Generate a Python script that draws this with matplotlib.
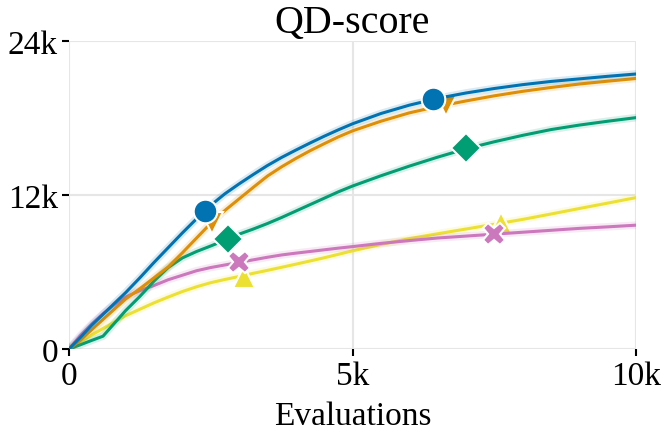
import matplotlib
matplotlib.use('Agg')
from matplotlib import pyplot as plt
from matplotlib.ticker import FuncFormatter

# values
evals = [0, 200, 400, 600, 800, 1000, 1250, 1500, 1750, 2000, 2250, 2500, 2750, 3000,
         3250, 3500, 3750, 4000, 4250, 4500, 4750, 5000, 5500, 6000, 6500, 7000,
         7500, 8000, 8500, 9000, 9500, 10000]

blue = [0, 900, 1850, 2700, 3550, 4400, 5550, 6750, 7900, 9050, 10150, 11200, 12100, 12870,
        13600, 14300, 14930, 15500, 16050, 16580, 17080, 17550, 18350, 19000, 19530, 19950,
        20300, 20600, 20850, 21050, 21250, 21430]
orange = [0, 700, 1500, 2300, 3100, 3900, 4700, 5550, 6400, 7500, 8650, 9800, 10800, 11700,
          12600, 13480, 14200, 14850, 15450, 16000, 16530, 17000, 17750, 18400, 18900, 19330,
          19730, 20080, 20380, 20650, 20870, 21080]
green = [0, 330, 670, 1000, 2000, 3000, 4100, 5300, 6350, 7100, 7600, 8030, 8480, 8950,
         9350, 9780, 10250, 10750, 11250, 11750, 12250, 12700, 13500, 14250, 14950, 15600,
         16150, 16650, 17100, 17450, 17750, 18030]
pink = [0, 1050, 1950, 2750, 3450, 4050, 4550, 4950, 5400, 5750, 6100, 6350, 6550, 6750,
        6950, 7150, 7330, 7470, 7600, 7730, 7860, 7980, 8230, 8450, 8650, 8800,
        8950, 9100, 9250, 9400, 9520, 9650]
yellow = [0, 550, 1100, 1600, 2100, 2600, 3100, 3600, 4050, 4480, 4850, 5170, 5420, 5650,
          5900, 6130, 6370, 6610, 6860, 7110, 7380, 7650, 8150, 8600, 8980, 9350,
          9720, 10100, 10520, 10950, 11370, 11800]

marker_x = {'blue': [2400, 6410], 'orange': [2520, 6650], 'green': [2800, 7000],
            'pink': [2990, 7500], 'yellow': [3080, 7620]}
marker_y = {'blue': [10780, 19500], 'orange': [9800, 19000], 'green': [8600, 15640],
            'pink': [6750, 8950], 'yellow': [5600, 9850]}

series = [
    ('blue', blue, '#0173b2', 'o', 17),
    ('orange', orange, '#de8f05', 'v', 16),
    ('green', green, '#029e73', 'D', 15),
    ('pink', pink, '#cc78bc', 'X', 16),
    ('yellow', yellow, '#ece133', '^', 16),
]

plt.rcParams['font.family'] = ['Liberation Serif', 'DejaVu Serif']
plt.rcParams['font.size'] = 24

fig = plt.figure(figsize=(6.64, 4.39), dpi=100)
ax = fig.add_axes([0.1039, 0.2027, 0.958 - 0.1039, 0.9043 - 0.2027])

order = ['yellow', 'pink', 'green', 'orange', 'blue']
zs = {name: i for i, name in enumerate(order)}
for name, vals, color, marker, ms in series:
    z = 3 + zs[name]
    ax.plot(evals, vals, color=color, lw=5.5, alpha=0.15, solid_capstyle='round', zorder=z)
    ax.plot(evals, vals, color=color, lw=2.2, zorder=z + 0.1)
    ax.plot(marker_x[name], marker_y[name], ls='none', marker=marker, ms=ms,
            color=color, markeredgecolor='white', markeredgewidth=1.5, zorder=z + 0.2)

ax.set_xlim(0, 10000)
ax.set_ylim(0, 24000)
ax.set_xticks([0, 5000, 10000])
ax.set_yticks([0, 12000, 24000])
fmt = FuncFormatter(lambda v, p: '0' if v == 0 else '%dk' % round(v / 1000))
ax.xaxis.set_major_formatter(fmt)
ax.yaxis.set_major_formatter(fmt)

ax.grid(True, color='#e6e6e6', lw=1.5, zorder=0)
for s in ax.spines.values():
    s.set_visible(False)
ax.tick_params(length=5, width=1.5, color='black', pad=3)

ax.set_title('QD-score', pad=6)
ax.set_xlabel('Evaluations', labelpad=7)

fig.savefig('out.png', dpi=100)
